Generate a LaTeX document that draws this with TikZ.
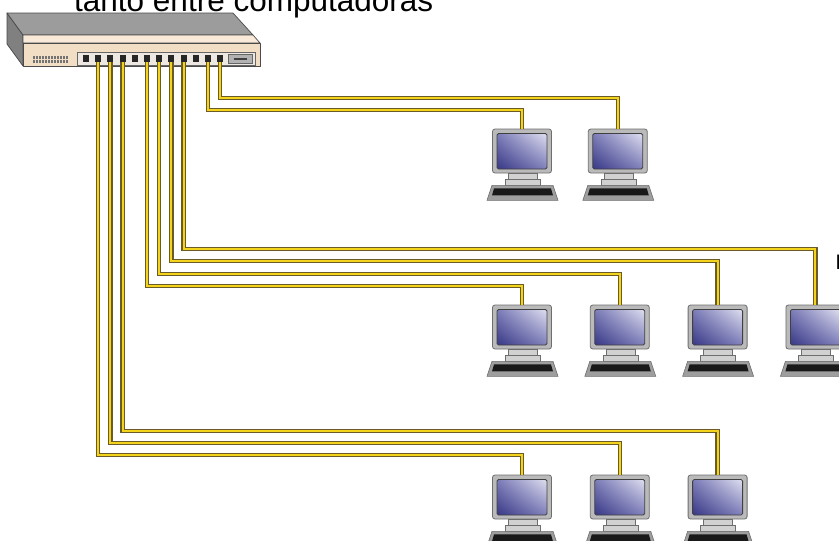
\documentclass[tikz,border=0pt]{standalone}
\usepackage{fontspec}
\setmainfont{Liberation Sans}
\usetikzlibrary{positioning,shadings}

\definecolor{casetop}{HTML}{9C9C9C}
\definecolor{caseside}{HTML}{808080}
\definecolor{casebevel}{HTML}{F8E9D8}
\definecolor{casefront}{HTML}{F2DEC5}
\definecolor{caseedge}{HTML}{4A4A4A}
\definecolor{portbay}{HTML}{EEE8E2}
\definecolor{cableout}{HTML}{6B5B26}
\definecolor{cablein}{HTML}{F3D31C}
\definecolor{bezel}{HTML}{BABABA}
\definecolor{bezeledge}{HTML}{6E6E6E}
\definecolor{crtdark}{HTML}{2A2A7C}
\definecolor{crtmid}{HTML}{7C7CBA}
\definecolor{crtlight}{HTML}{F4F4FC}

\tikzset{
  case/.style     = {draw=caseedge, line width=0.7pt, line join=round},
  port/.style     = {fill=black!85, minimum width=6pt, minimum height=7pt, inner sep=0pt},
  screen/.style   = {draw=black!75, line width=0.8pt, rounded corners=1.5pt,
                     upper right=crtlight, upper left=crtmid, lower left=crtdark, lower right=crtmid},
  pc/.style       = {draw=bezeledge, fill=bezel, rounded corners=2.5pt, line width=0.8pt,
                     minimum width=59pt, minimum height=44pt, inner sep=0pt,
                     path picture={\shade[screen]
                       ([shift={(4.5pt,-4.5pt)}]path picture bounding box.north west) rectangle
                       ([shift={(-4.5pt,4pt)}]path picture bounding box.south east);}},
  stand/.style    = {draw=bezeledge, fill=black!18, line width=0.6pt},
  cable/.style    = {draw=cableout, double=cablein, double distance=2pt, line width=1.2pt},
  drop run/.style = {to path={-- ++(0,#1) -| (\tikztotarget)}}
}

\begin{document}
\begin{tikzpicture}[x=1pt,y=-1pt,node distance=38pt]
  \useasboundingbox (0,0) rectangle (839,541);
  \fill[white] (0,0) rectangle (839,541);

  % heading line, runs off the top
  \node[anchor=base west, inner sep=0pt, font=\fontsize{31.5}{36}\selectfont] (heading) at (74,11) {tanto entre computadoras};
  \node[anchor=base west, inner sep=0pt, font=\fontsize{21}{25}\selectfont] (edge text) at (835.5,269) {P};

  % switch case
  \filldraw[case, fill=caseside] (7,13) -- (23,35) -- (23,66) -- (7,44) -- cycle;
  \filldraw[case, fill=casetop] (7,13) -- (233,13) -- (253,35) -- (23,35) -- cycle;
  \filldraw[case, fill=casebevel] (23,35) -- (253,35) -- (260,43) -- (23,43) -- cycle;
  \filldraw[case, fill=casefront] (23,43) rectangle (260,66);
  \foreach \k in {0,...,11} {
    \fill[black!55] ({33+3*\k},56) rectangle ++(1.6,2.6);
    \fill[black!55] ({33+3*\k},60) rectangle ++(1.6,2.6);
  }
  \filldraw[draw=black!60, fill=portbay, line width=0.8pt] (77,52) rectangle (255,65);
  \filldraw[draw=black!60, fill=black!30] (228,54.5) rectangle (252,63);
  \fill[black!75] (234,57.5) rectangle (247,60);
  \foreach \i in {1,...,12}
    \node[port] (p\i) at ({73.8+12.2*\i},58.5) {};

  % workstations
  \node[pc] (a1) at (522,151) {};
  \node[pc] (a2) [right=36pt of a1] {};
  \node[pc] (b1) at (522,327) {};
  \node[pc] (b2) [right=of b1] {};
  \node[pc] (b3) [right=of b2] {};
  \node[pc] (b4) [right=of b3] {};
  \node[pc] (c1) at (522,497) {};
  \node[pc] (c2) [right=of c1] {};
  \node[pc] (c3) [right=of c2] {};

  \foreach \c in {a1,a2,b1,b2,b3,b4,c1,c2,c3} {
    \draw[stand] ([xshift=-14pt]\c.south) rectangle ++(29,6);
    \draw[stand] ([xshift=-17pt,yshift=-6pt]\c.south) rectangle ++(35,6);
    \draw[stand, fill=black!38] ([xshift=-30pt,yshift=-12pt]\c.south) -- ++(61,0) -- ++(5,15) -- ++(-71,0) -- cycle;
    \fill[black!90] ([xshift=-28pt,yshift=-15pt]\c.south) -- ++(57,0) -- ++(2,7) -- ++(-61,0) -- cycle;
  }

  % patch cables
  \draw[cable] (p12.south) to[drop run=35.5] (a2.north);
  \draw[cable] (p11.south) to[drop run=48] (a1.north);
  \draw[cable] (p9.south) to[drop run=186.5] (b4.north);
  \draw[cable] (p8.south) to[drop run=199] (b3.north);
  \draw[cable] (p7.south) to[drop run=211.5] (b2.north);
  \draw[cable] (p6.south) to[drop run=223.5] (b1.north);
  \draw[cable] (p4.south) to[drop run=368.5] (c3.north);
  \draw[cable] (p3.south) to[drop run=380.5] (c2.north);
  \draw[cable] (p2.south) to[drop run=393] (c1.north);
\end{tikzpicture}
\end{document}
